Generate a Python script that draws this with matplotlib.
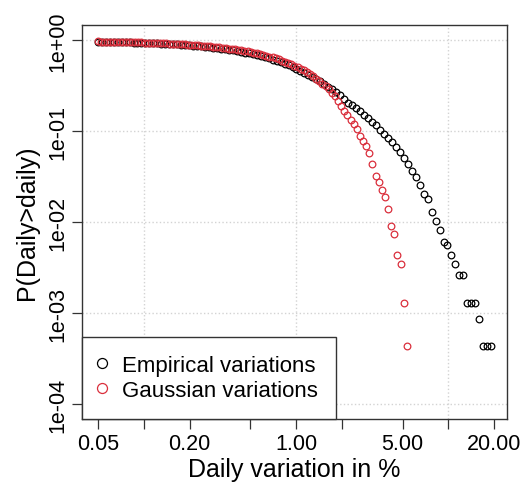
import numpy as np
import matplotlib.pyplot as plt

plt.rcParams['font.family'] = ['Liberation Sans', 'DejaVu Sans']

# empirical daily variations (x in %, P(Daily > x))
emp_x = [0.0500, 0.05309, 0.05638, 0.05987, 0.06357, 0.06751, 0.07168, 0.07612, 0.08083, 0.08583,
         0.09114, 0.09679, 0.1028, 0.1091, 0.1159, 0.1231, 0.1307, 0.1388, 0.1474, 0.1565,
         0.1662, 0.1765, 0.1874, 0.1990, 0.2113, 0.2244, 0.2383, 0.2530, 0.2687, 0.2853,
         0.3030, 0.3217, 0.3416, 0.3628, 0.3852, 0.4091, 0.4344, 0.4613, 0.4898, 0.5201,
         0.5523, 0.5865, 0.6228, 0.6613, 0.7022, 0.7457, 0.7918, 0.8408, 0.8928, 0.9482,
         1.0069, 1.0692, 1.1354, 1.2056, 1.2802, 1.3595, 1.4436, 1.5329, 1.6277, 1.7284,
         1.8354, 1.9489, 2.0695, 2.1976, 2.3335, 2.4779, 2.6312, 2.7940, 2.9669, 3.1504,
         3.3453, 3.5523, 3.7721, 4.0055, 4.2533, 4.5165, 4.7959, 5.0926, 5.4077, 5.7423,
         6.0976, 6.4749, 6.8755, 7.3009, 7.7526, 8.2323, 8.7417, 9.2826, 9.8567, 10.467,
         11.114, 11.812, 12.540, 13.316, 14.140, 15.015, 15.944, 16.930, 17.978, 19.090]
emp_p = [0.970, 0.968, 0.966, 0.964, 0.962, 0.960, 0.957, 0.955, 0.952, 0.949,
         0.946, 0.943, 0.940, 0.936, 0.932, 0.928, 0.924, 0.919, 0.914, 0.909,
         0.903, 0.897, 0.891, 0.884, 0.877, 0.869, 0.861, 0.852, 0.843, 0.833,
         0.823, 0.812, 0.801, 0.789, 0.777, 0.764, 0.750, 0.736, 0.721, 0.706,
         0.690, 0.673, 0.655, 0.636, 0.616, 0.596, 0.575, 0.553, 0.531, 0.509,
         0.487, 0.465, 0.443, 0.421, 0.399, 0.377, 0.355, 0.333, 0.311, 0.290,
         0.269, 0.249, 0.226, 0.206, 0.196, 0.180, 0.169, 0.153, 0.140, 0.128,
         0.118, 0.104, 0.0938, 0.0841, 0.0760, 0.0681, 0.0590, 0.0507, 0.0439, 0.0367,
         0.0313, 0.0258, 0.0208, 0.0181, 0.0131, 0.0104, 0.00830, 0.00611, 0.00566, 0.00437,
         0.00348, 0.00263, 0.00263, 0.00130, 0.00130, 0.00130, 0.000867, 0.000435, 0.000435, 0.000435]

# simulated gaussian variations
gauss_x = [0.0500, 0.05241, 0.05494, 0.05759, 0.06037, 0.06329, 0.06634, 0.06954, 0.07290, 0.07642,
           0.08011, 0.08398, 0.08803, 0.09228, 0.09676, 0.1014, 0.1063, 0.1114, 0.1168, 0.1225,
           0.1284, 0.1346, 0.1411, 0.1479, 0.1550, 0.1625, 0.1703, 0.1786, 0.1872, 0.1963,
           0.2057, 0.2157, 0.2261, 0.2370, 0.2484, 0.2604, 0.2730, 0.2862, 0.3000, 0.3145,
           0.3297, 0.3456, 0.3623, 0.3798, 0.3981, 0.4173, 0.4375, 0.4586, 0.4808, 0.5040,
           0.5283, 0.5539, 0.5806, 0.6087, 0.6381, 0.6689, 0.7012, 0.7351, 0.7706, 0.8078,
           0.8468, 0.8877, 0.9306, 0.9756, 1.0227, 1.0721, 1.1239, 1.1781, 1.2351, 1.2947,
           1.3572, 1.4228, 1.4915, 1.5636, 1.6389, 1.7181, 1.8011, 1.8881, 1.9794, 2.0749,
           2.1751, 2.2802, 2.3904, 2.5061, 2.6272, 2.7541, 2.8872, 3.0266, 3.1728, 3.3260,
           3.4866, 3.6551, 3.8318, 4.0168, 4.2107, 4.4141, 4.6274, 4.8508, 5.0822, 5.3287]
gauss_p = [0.9742, 0.9730, 0.9717, 0.9703, 0.9690, 0.9674, 0.9659, 0.9642, 0.9625, 0.9607,
           0.9588, 0.9568, 0.9547, 0.9525, 0.9502, 0.9478, 0.9453, 0.9427, 0.9399, 0.9370,
           0.9340, 0.9308, 0.9275, 0.9240, 0.9203, 0.9165, 0.9125, 0.9083, 0.9039, 0.8993,
           0.8944, 0.8893, 0.8840, 0.8785, 0.8727, 0.8666, 0.8602, 0.8535, 0.8466, 0.8392,
           0.8316, 0.8235, 0.8152, 0.8065, 0.7973, 0.7878, 0.7777, 0.7673, 0.7564, 0.7450,
           0.7332, 0.7208, 0.7080, 0.6946, 0.6806, 0.6662, 0.6510, 0.6353, 0.6190, 0.6022,
           0.5847, 0.5668, 0.5482, 0.5291, 0.5094, 0.4892, 0.4683, 0.4471, 0.4256, 0.4036,
           0.3812, 0.3587, 0.3359, 0.3132, 0.2904, 0.2677, 0.2453, 0.218, 0.192, 0.169,
           0.152, 0.135, 0.121, 0.107, 0.0899, 0.0793, 0.0687, 0.0579, 0.0439, 0.0321,
           0.0280, 0.0225, 0.0191, 0.0140, 0.00918, 0.00743, 0.00437, 0.00348, 0.00130, 0.000435]

xticks = [0.05, 0.1, 0.2, 0.5, 1, 2, 5, 10, 20]
xlabels = ['0.05', '', '0.20', '', '1.00', '', '5.00', '', '20.00']
yticks = [1e0, 1e-1, 1e-2, 1e-3, 1e-4]
ylabels = ['1e+00', '1e-01', '1e-02', '1e-03', '1e-04']

red = '#DA2F3C'

fig = plt.figure(figsize=(5.25, 4.85), dpi=100)
ax = fig.add_axes([0.1562, 0.134, 0.8095, 0.8124])
ax.set_xscale('log')
ax.set_yscale('log')
ax.set_xlim(0.03942, 24.22)
ax.set_ylim(10 ** -4.16, 10 ** 0.17)

for v in [0.1, 1, 10]:
    ax.axvline(v, color='#D3D3D3', ls=':', lw=1, zorder=0)
for v in yticks:
    ax.axhline(v, color='#D3D3D3', ls=':', lw=1, zorder=0)

ax.plot(emp_x, emp_p, 'o', mfc='none', mec='black', ms=4.8, mew=0.9,
        label='Empirical variations')
ax.plot(gauss_x, gauss_p, 'o', mfc='none', mec=red, ms=4.8, mew=0.9,
        label='Gaussian variations')

ax.xaxis.set_minor_locator(plt.NullLocator())
ax.yaxis.set_minor_locator(plt.NullLocator())
ax.set_xticks(xticks)
ax.set_xticklabels(xlabels, fontsize=15.5)
ax.set_yticks(yticks)
ax.set_yticklabels(ylabels, fontsize=15.5, rotation=90, va='center')
ax.tick_params(length=7, width=0.9, color='#333333', pad=3)

ax.set_xlabel('Daily variation in %', fontsize=18, labelpad=2)
ax.set_ylabel('P(Daily>daily)', fontsize=18, labelpad=6)

for s in ax.spines.values():
    s.set_color('#333333')
    s.set_linewidth(1)

leg = ax.legend(loc='lower left', borderaxespad=0, fontsize=16.0, markerscale=1.5,
                fancybox=False, framealpha=1, edgecolor='#333333',
                handletextpad=0.8, borderpad=0.8, handlelength=0.2, labelspacing=0.2)
leg.get_frame().set_linewidth(1)

fig.savefig('out.png', dpi=100)
